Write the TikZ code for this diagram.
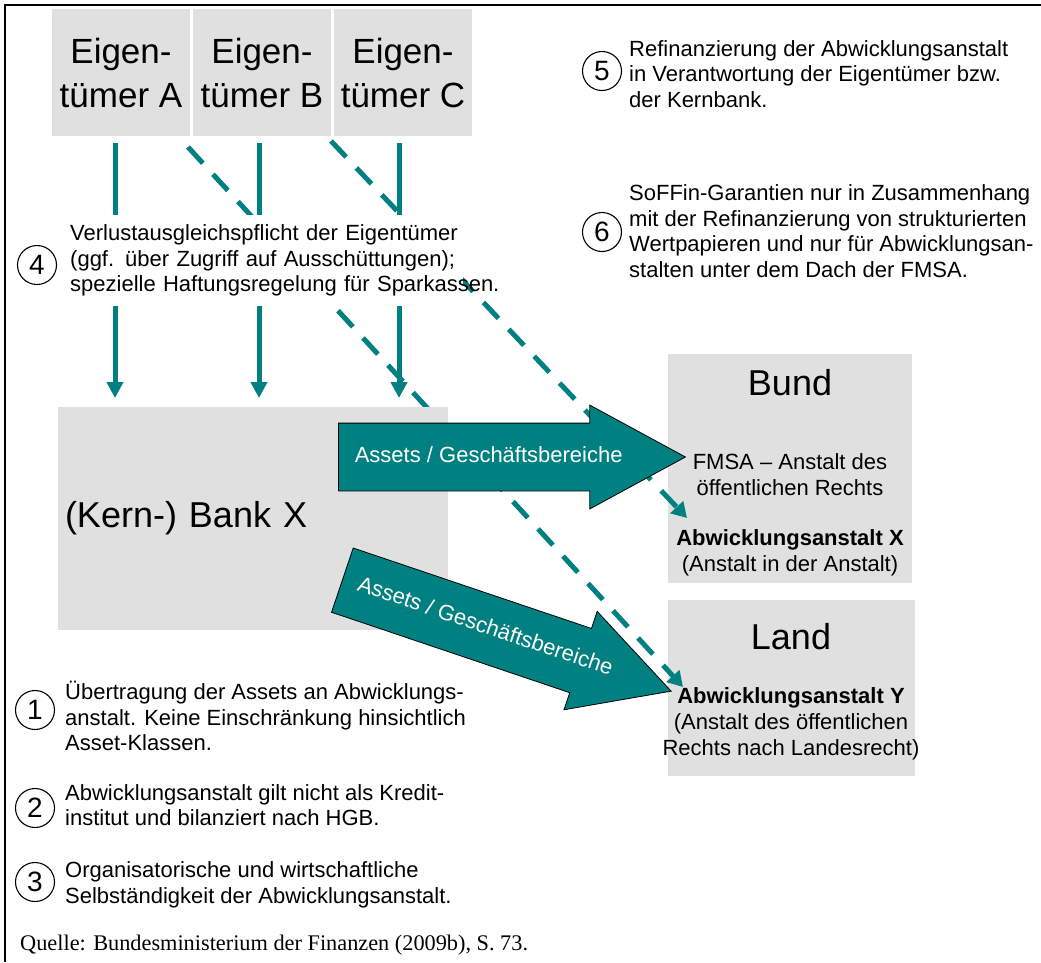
\documentclass[tikz,border=0pt]{standalone}
\usepackage{fontspec}
\setmainfont{Liberation Sans}
\newfontfamily\quellfont{Liberation Serif}
\usetikzlibrary{arrows.meta,shapes.arrows}
\definecolor{petrol}{RGB}{0,128,128}
\definecolor{boxgray}{RGB}{224,224,224}
\tikzset{
  ownbox/.style={fill=boxgray,minimum width=138pt,minimum height=127pt,inner sep=0pt,align=center,font=\fontsize{35}{44}\selectfont},
  graybox/.style={fill=boxgray,inner sep=0pt},
  flow/.style={draw=petrol,line width=5pt,-{Triangle[width=16pt,length=16pt]}},
  refi/.style={draw=petrol,line width=5pt,dash pattern=on 22pt off 15pt,-{Triangle[width=17pt,length=15pt]}},
  num/.style={draw,circle,line width=1.1pt,minimum size=39pt,inner sep=0pt,font=\fontsize{28}{28}\selectfont},
  note/.style={anchor=west,align=left,inner sep=0pt,font=\fontsize{22}{25.5}\selectfont},
  bigarrow/.style={single arrow,fill=petrol,draw=black,line width=0.8pt,text=white,anchor=tail,minimum height=329pt,minimum width=103pt,single arrow head extend=18pt,single arrow tip angle=57,inner xsep=0pt,inner ysep=23.5pt,text height=15pt,text depth=5pt,font=\fontsize{22}{26}\selectfont},
}
\begin{document}
\begin{tikzpicture}[x=1pt,y=-1pt]
  \useasboundingbox (0,0) rectangle (1041,962);
  \draw[line width=2pt] (5,962) -- (5,5) -- (1041,5);

  % owners
  \node[ownbox] (ownA) at (121,72.5) {Eigen-\\tümer A};
  \node[ownbox] (ownB) at (262,72.5) {Eigen-\\tümer B};
  \node[ownbox] (ownC) at (403,72.5) {Eigen-\\tümer C};

  % Bund and Land
  \node[graybox,minimum width=244pt,minimum height=229pt] (bund) at (790,468.5) {};
  \node[graybox,minimum width=247pt,minimum height=176pt] (land) at (791.5,688) {};
  \node[font=\fontsize{36}{36}\selectfont] (bundt) at (790,383) {Bund};
  \node[align=center,font=\fontsize{22}{26}\selectfont] (fmsa) at (790,475) {FMSA – Anstalt des\\öffentlichen Rechts};
  \node[align=center,font=\fontsize{22}{26}\selectfont] (abwx) at (790,553) {\textbf{Abwicklungsanstalt X}\\(Anstalt in der Anstalt)};
  \node[font=\fontsize{36}{36}\selectfont] (landt) at (791,637) {Land};
  \node[align=center,font=\fontsize{22}{26}\selectfont] (abwy) at (791,724) {\textbf{Abwicklungsanstalt Y}\\(Anstalt des öffentlichen\\Rechts nach Landesrecht)};

  % owners -> bank
  \draw[flow,shorten >=9pt] ([xshift=-6pt,yshift=-7pt]ownA.south) -- ([xshift=-6pt]ownA.south |- 0,407);
  \draw[flow,shorten >=9pt] ([xshift=-3pt,yshift=-7pt]ownB.south) -- ([xshift=-3pt]ownB.south |- 0,407);
  \draw[flow,shorten >=9pt] ([xshift=-4pt,yshift=-7pt]ownC.south) -- ([xshift=-4pt]ownC.south |- 0,407);

  % refinancing
  \coordinate (fromB) at (188,147);
  \coordinate (fromC) at (331,141);
  \coordinate (toX) at (687,518);
  \coordinate (toY) at (683,687);
  \draw[refi] (fromB) -- (toY);
  \draw[refi] (fromC) -- (toX);

  % bank
  \node[graybox,minimum width=390pt,minimum height=223pt,text width=376pt,align=left,inner xsep=7pt,font=\fontsize{36}{36}\selectfont] (bank) at (253,518.5) {\raisebox{-4pt}{(Kern-) Bank X}};

  % transfers
  \node[bigarrow] (move1) at (338,457) {\hspace*{16pt}Assets / Geschäftsbereiche};
  \node[bigarrow,rotate=-18.66] (move2) at (342,580) {\hspace*{16pt}Assets / Geschäftsbereiche};

  \node[note,fill=white,text width=389pt,minimum height=91pt,inner xsep=4pt] (verl) at (66,260.5) {Verlustausgleichspflicht der Eigentümer\\(ggf. über Zugriff auf Ausschüttungen);\\\makebox[389pt][l]{spezielle Haftungsregelung für Sparkassen.}};

  % numbered notes
  \node[num] (n4) at (37,265) {4};
  \node[num] (n5) at (602,71) {5};
  \node[num] (n6) at (602,232) {6};
  \node[num] (n1) at (35,710) {1};
  \node[num] (n2) at (35,808) {2};
  \node[num] (n3) at (35,882) {3};
  \node[note] (t5) at (629,74) {Refinanzierung der Abwicklungsanstalt\\in Verantwortung der Eigentümer bzw.\\der Kernbank.};
  \node[note] (t6) at (629,231) {SoFFin-Garantien nur in Zusammenhang\\mit der Refinanzierung von strukturierten\\Wertpapieren und nur für Abwicklungsan-\\stalten unter dem Dach der FMSA.};
  \node[note] (t1) at (65,716) {Übertragung der Assets an Abwicklungs-\\anstalt. Keine Einschränkung hinsichtlich\\Asset-Klassen.};
  \node[note] (t2) at (65,805) {Abwicklungsanstalt gilt nicht als Kredit-\\institut und bilanziert nach HGB.};
  \node[note] (t3) at (65,885) {Organisatorische und wirtschaftliche\\Selbständigkeit der Abwicklungsanstalt.};

  \node[anchor=west,inner sep=0pt,font=\quellfont\fontsize{22.3}{22}\selectfont] (quelle) at (20,945) {Quelle: Bundesministerium der Finanzen (2009b), S. 73.};
\end{tikzpicture}
\end{document}
